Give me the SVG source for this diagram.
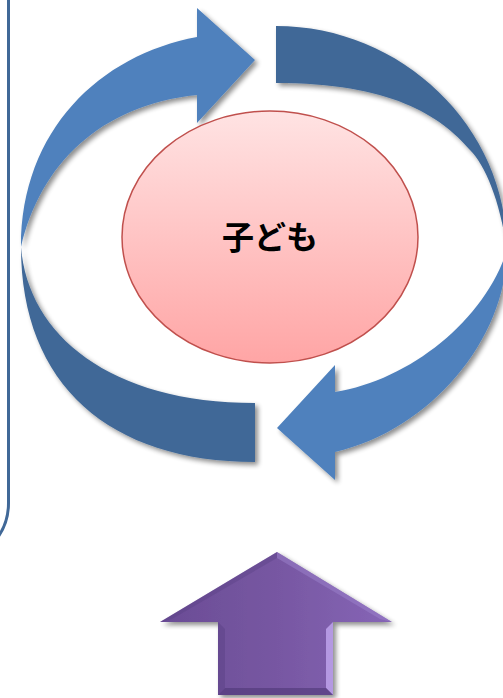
<svg xmlns="http://www.w3.org/2000/svg" width="503" height="698" viewBox="0 0 503 698">
<defs>
<style>
.light{fill:#4F81BD;}
.dark{fill:#406897;}
.frame{fill:none;stroke:#406897;stroke-width:3;}
.label{font-family:"Noto Sans CJK JP","Noto Sans",sans-serif;font-weight:bold;font-size:32px;fill:#000;text-anchor:middle;}
</style>
<filter id="sh" x="-10%" y="-10%" width="130%" height="130%">
<feGaussianBlur in="SourceAlpha" stdDeviation="2.5"/>
<feOffset dx="3" dy="3" result="b"/>
<feComponentTransfer><feFuncA type="linear" slope="0.45"/></feComponentTransfer>
<feMerge><feMergeNode/><feMergeNode in="SourceGraphic"/></feMerge>
</filter>
<linearGradient id="pink" x1="0" y1="0" x2="0" y2="1">
<stop offset="0" stop-color="#FFE3E3"/>
<stop offset="1" stop-color="#FFA5A5"/>
</linearGradient>
<linearGradient id="purple" x1="0" y1="0" x2="1" y2="0">
<stop offset="0" stop-color="#6A4C95"/>
<stop offset="0.5" stop-color="#7757A2"/>
<stop offset="1" stop-color="#8665B6"/>
</linearGradient>
</defs>

<g id="frame">
<rect class="frame" x="-400" y="-60" width="408.5" height="623" rx="60"/>
</g>

<g id="cycle" filter="url(#sh)">
<path id="arrow-top-left" class="light" d="M21,247 C21,130 100,55 197,37 L197,8 L255,60 L197,123 L197,95 C100,105 40,165 21,247 Z"/>
<path id="arc-top-right" class="dark" d="M276,26 C402,26 507,127 507,250 C500,200 485,165 470,150 C440,115 390,83 276,83 Z"/>
<path id="arc-bottom-left" class="dark" d="M21,247 C21,385 110,462 255,462 L255,403 C110,403 28,335 21,247 Z"/>
<path id="arrow-bottom-right" class="light" d="M507,250 C506,340 430,430 335,452 L335,480 L277,428 L335,365 L335,392 C410,380 485,320 507,250 Z"/>
</g>

<g id="child">
<ellipse cx="270" cy="237" rx="148" ry="126" fill="url(#pink)" stroke="#C0504D" stroke-width="1.5"/>
<text class="label" x="270" y="249">子ども</text>
</g>

<g id="up-arrow">
<path d="M277,552 L392,622 L333,622 L333,695 L218,695 L218,622 L160,622 Z" fill="url(#purple)" filter="url(#sh)"/>
<polygon points="333,622 333,695 326,688 326,629" fill="#C2A8F0" opacity="0.8"/>
<polygon points="218,695 333,695 326,688 225,688" fill="#4E3777" opacity="0.6"/>
<polygon points="218,622 218,695 225,688 225,629" fill="#5B4185" opacity="0.5"/>
<polygon points="277,552 392,622 380,619 277,558" fill="#9C82CC" opacity="0.5"/>
<polygon points="277,552 160,622 172,619 277,558" fill="#5B4185" opacity="0.4"/>
</g>
</svg>
